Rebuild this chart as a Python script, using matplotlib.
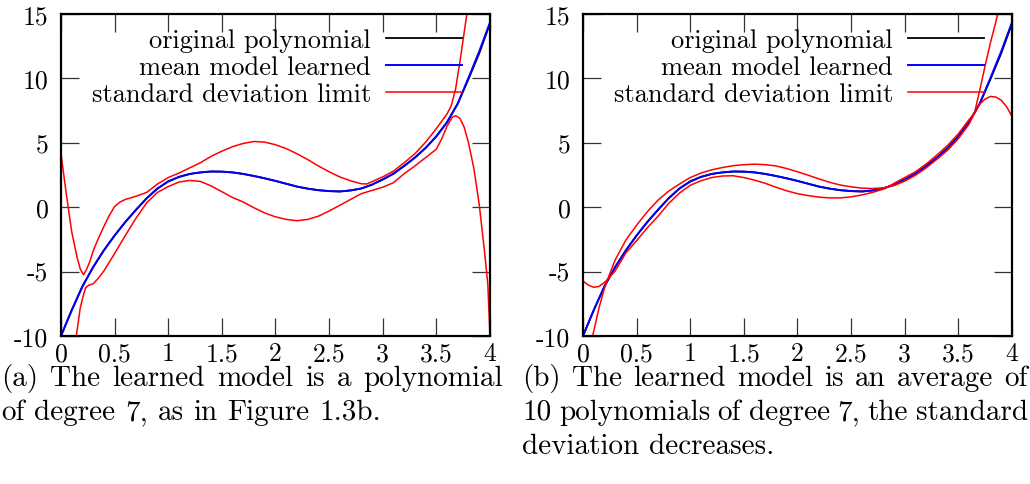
import matplotlib
matplotlib.use('Agg')
import matplotlib.pyplot as plt

xs = [0.0, 0.1, 0.2, 0.3, 0.4, 0.5, 0.6, 0.7, 0.8, 0.9, 1.0,
      1.1, 1.2, 1.3, 1.4, 1.5, 1.6, 1.7, 1.8, 1.9, 2.0,
      2.1, 2.2, 2.3, 2.4, 2.5, 2.6, 2.7, 2.8, 2.9, 3.0,
      3.1, 3.2, 3.3, 3.4, 3.5, 3.6, 3.7, 3.8, 3.9, 4.0]

original = [-10.0, -8.0, -6.15, -4.65, -3.35, -2.2, -1.15, -0.2, 0.7, 1.45, 2.0,
            2.35, 2.58, 2.7, 2.77, 2.76, 2.7, 2.58, 2.42, 2.24, 2.04,
            1.82, 1.6, 1.44, 1.32, 1.25, 1.22, 1.3, 1.45, 1.75, 2.15,
            2.6, 3.2, 3.85, 4.6, 5.5, 6.6, 8.05, 9.95, 11.95, 14.25]

mean_a = [-10.0, -8.0, -6.15, -4.65, -3.35, -2.2, -1.15, -0.2, 0.7, 1.45, 2.0,
          2.35, 2.58, 2.7, 2.77, 2.76, 2.7, 2.58, 2.42, 2.24, 2.04,
          1.82, 1.6, 1.44, 1.32, 1.25, 1.22, 1.3, 1.45, 1.75, 2.15,
          2.6, 3.2, 3.85, 4.6, 5.5, 6.6, 8.05, 10.05, 12.1, 14.35]

mean_b = [-10.0, -8.0, -6.15, -4.65, -3.35, -2.2, -1.15, -0.2, 0.7, 1.45, 2.0,
          2.35, 2.58, 2.7, 2.77, 2.76, 2.7, 2.58, 2.42, 2.24, 2.04,
          1.82, 1.6, 1.44, 1.32, 1.25, 1.22, 1.3, 1.45, 1.75, 2.15,
          2.6, 3.2, 3.85, 4.6, 5.5, 6.6, 8.05, 10.05, 12.1, 14.35]

# (a) standard deviation limits
up_a_x = [0.0, 0.05, 0.1, 0.15, 0.18, 0.21, 0.24, 0.27, 0.3, 0.35, 0.4, 0.45,
          0.5, 0.55, 0.6, 0.7, 0.8, 0.9, 1.0, 1.1, 1.2, 1.3, 1.4, 1.5, 1.6,
          1.7, 1.8, 1.9, 2.0, 2.1, 2.2, 2.3, 2.4, 2.5, 2.6, 2.7, 2.8, 2.85,
          2.9, 3.0, 3.1, 3.2, 3.3, 3.4, 3.5, 3.6, 3.64, 3.68, 3.72, 3.76, 3.8]
up_a_y = [4.15, 1.0, -1.9, -3.9, -4.8, -5.25, -4.8, -4.2, -3.4, -2.4, -1.5, -0.65,
          0.05, 0.4, 0.6, 0.85, 1.15, 1.8, 2.3, 2.65, 3.05, 3.45, 3.95, 4.35, 4.7,
          4.95, 5.1, 5.05, 4.85, 4.55, 4.15, 3.7, 3.2, 2.75, 2.35, 2.05, 1.82, 1.8,
          1.98, 2.35, 2.8, 3.45, 4.15, 5.05, 6.1, 7.25, 7.9, 9.2, 11.3, 13.6, 15.9]

lo_a_x = [0.125, 0.143, 0.18, 0.21, 0.23, 0.26, 0.3, 0.35, 0.4, 0.5, 0.6, 0.7,
          0.8, 0.9, 1.0, 1.1, 1.2, 1.3, 1.4, 1.5, 1.6, 1.7, 1.8, 1.9, 2.0,
          2.1, 2.2, 2.3, 2.4, 2.5, 2.6, 2.7, 2.8, 2.9, 3.0, 3.1, 3.2, 3.3,
          3.4, 3.5, 3.55, 3.6, 3.65, 3.68, 3.72, 3.76, 3.8, 3.85, 3.9, 3.95,
          3.98, 4.0]
lo_a_y = [-12.5, -10.0, -7.8, -6.8, -6.25, -6.05, -5.95, -5.5, -4.95, -3.6, -2.2, -0.85,
          0.35, 1.15, 1.6, 1.95, 2.08, 2.0, 1.65, 1.2, 0.75, 0.4, -0.05, -0.45, -0.75,
          -0.95, -1.05, -0.95, -0.7, -0.3, 0.15, 0.6, 1.05, 1.3, 1.55, 1.9, 2.6, 3.2,
          3.85, 4.5, 5.3, 6.3, 7.0, 7.1, 6.9, 6.2, 5.0, 3.0, 0.2, -3.5,
          -6.0, -10.0]

# (b) standard deviation limits
up_b_x = [0.0, 0.05, 0.1, 0.15, 0.2, 0.23, 0.3, 0.4, 0.5, 0.6, 0.7, 0.8, 0.9,
          1.0, 1.1, 1.2, 1.3, 1.4, 1.5, 1.6, 1.7, 1.8, 1.9, 2.0, 2.1, 2.2, 2.3,
          2.4, 2.5, 2.6, 2.7, 2.8, 2.85, 2.9, 3.0, 3.1, 3.2, 3.3, 3.4, 3.5, 3.6,
          3.65, 3.7, 3.75, 3.8, 3.85, 3.9]
up_b_y = [-5.73, -6.05, -6.22, -6.15, -5.85, -5.6, -4.1, -2.55, -1.4, -0.35, 0.55, 1.25, 1.8,
          2.3, 2.65, 2.9, 3.08, 3.22, 3.3, 3.34, 3.3, 3.2, 3.0, 2.75, 2.48, 2.2, 1.93,
          1.72, 1.58, 1.48, 1.45, 1.5, 1.6, 1.68, 2.02, 2.48, 3.05, 3.72, 4.42, 5.32, 6.45,
          7.3, 9.1, 11.0, 12.8, 14.4, 16.2]

lo_b_x = [0.07, 0.09, 0.12, 0.15, 0.2, 0.23, 0.3, 0.4, 0.5, 0.6, 0.7, 0.8, 0.9,
          1.0, 1.1, 1.2, 1.3, 1.4, 1.5, 1.6, 1.7, 1.8, 1.9, 2.0, 2.1, 2.2, 2.3,
          2.4, 2.5, 2.6, 2.7, 2.8, 2.85, 2.9, 3.0, 3.1, 3.2, 3.3, 3.4, 3.5, 3.6,
          3.65, 3.7, 3.75, 3.8, 3.85, 3.9, 3.95, 4.0]
lo_b_y = [-11.0, -10.0, -8.9, -7.8, -6.3, -5.6, -4.95, -3.55, -2.6, -1.6, -0.7, 0.3, 1.1,
          1.7, 2.05, 2.3, 2.42, 2.44, 2.3, 2.1, 1.85, 1.55, 1.27, 1.05, 0.9, 0.78, 0.72,
          0.72, 0.8, 0.95, 1.15, 1.4, 1.6, 1.85, 2.3, 2.75, 3.35, 4.05, 4.8, 5.7, 6.8,
          7.3, 8.0, 8.4, 8.6, 8.55, 8.3, 7.8, 7.05]

x_ticks = [0, 0.5, 1, 1.5, 2, 2.5, 3, 3.5, 4]
x_labels = ['0', '0.5', '1', '1.5', '2', '2.5', '3', '3.5', '4']
y_ticks = [-10, -5, 0, 5, 10, 15]
y_labels = ['-10', '-5', '0', '5', '10', '15']

# caption lines; True = justified to the full column width (as LaTeX does)
captions_a = [('(a) The learned model is a polynomial', True),
              ('of degree 7, as in Figure 1.3b.', False)]
captions_b = [('(b) The learned model is an average of', True),
              ('10 polynomials of degree 7, the standard', True),
              ('deviation decreases.', False)]

plt.rcParams['font.family'] = 'cmr10'
plt.rcParams['axes.unicode_minus'] = False

W, H = 1030, 485
fig = plt.figure(figsize=(W / 100, H / 100), dpi=100)
ax_a = fig.add_axes([0.0592, 0.3052, 0.4165, 0.6639])
ax_b = fig.add_axes([0.5660, 0.3052, 0.4165, 0.6639])

panels = [
    (ax_a, mean_a, up_a_x, up_a_y, lo_a_x, lo_a_y),
    (ax_b, mean_b, up_b_x, up_b_y, lo_b_x, lo_b_y),
]

for ax, mean, ux, uy, lx, ly in panels:
    ax.plot(xs, original, color='black', lw=1.3, label='original polynomial')
    ax.plot(xs, mean, color='#0000ff', lw=1.4, label='mean model learned')
    ax.plot(ux, uy, color='#ff0000', lw=1.1, label='standard deviation limit')
    ax.plot(lx, ly, color='#ff0000', lw=1.1)

    ax.set_xlim(0, 4)
    ax.set_ylim(-10, 15)
    ax.set_xticks(x_ticks)
    ax.set_xticklabels(x_labels)
    ax.set_yticks(y_ticks)
    ax.set_yticklabels(y_labels)
    ax.tick_params(direction='in', length=13, width=0.9, color='#333333',
                   top=True, right=True, labelsize=18.5)
    ax.tick_params(axis='x', pad=4)
    ax.tick_params(axis='y', pad=9)
    for sp in ax.spines.values():
        sp.set_linewidth(1.6)

    ax.legend(loc='upper right', bbox_to_anchor=(0.935, 0.955), frameon=False,
              markerfirst=False, fontsize=19, handlelength=2.9,
              handletextpad=0.55, labelspacing=0.12, borderpad=0, borderaxespad=0)

renderer = fig.canvas.get_renderer()


def caption_line(text, x0, x1, base_y, justify, size=21):
    # place words one by one so that justified lines span x0..x1 (pixels)
    words = text.split(' ')
    arts = [fig.text(0, 1 - base_y / H, w, fontsize=size, va='baseline') for w in words]
    widths = [a.get_window_extent(renderer).width for a in arts]
    if justify:
        gap = (x1 - x0 - sum(widths)) / (len(words) - 1)
    else:
        gap = size * 100 / 72 * 0.333
    x = x0
    for a, w in zip(arts, widths):
        a.set_x(x / W)
        x += w + gap


for i, (line, just) in enumerate(captions_a):
    caption_line(line, 1, 503, 386 + 34 * i, just)
for i, (line, just) in enumerate(captions_b):
    caption_line(line, 522, 1028, 386 + 34 * i, just)

fig.savefig('out.png', dpi=100)
